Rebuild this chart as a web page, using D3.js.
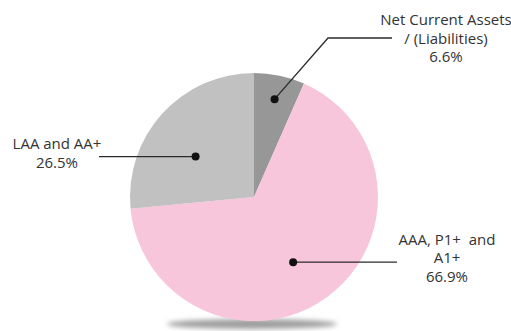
<!DOCTYPE html>
<html lang="en">
<head>
  <meta charset="UTF-8">
  <title>Portfolio pie</title>
  <style>
    body, html {
      margin: 0;
      padding: 0;
      background: #fff;
    }
    #svg {
      display: block;
    }
  </style>
</head>
<body>
  <svg id="svg" width="511" height="331"></svg>
  <script src="https://d3js.org/d3.v7.min.js"></script>
  <script>
    // Data
    const labels = [
      ['Net Current Assets', '/ (Liabilities)', '6.6%'],
      ['AAA, P1+  and', 'A1+', '66.9%'],
      ['LAA and AA+', '26.5%']
    ]
    const values = [6.6, 66.9, 26.5]
    const colors = ['#979797', '#f7c6da', '#c1c1c1']

    const width = 511
    const height = 331
    const cx = 254
    const cy = 197
    const radius = 124

    // where the dot sits inside each slice: fraction along slice, radius
    const dotPos = [
      { t: 0.5, r: 100 },
      { t: 0.52, r: 76 },
      { t: 0.42, r: 71 }
    ]
    // leader ends and text anchors
    const leaders = [
      { pts: [[328, 38], [392, 38]], tx: 446, ty: [25, 43.5, 62] },
      { pts: [[397, null]], tx: 447, ty: [244.5, 263, 281.5] },
      { pts: [[99, null]], tx: 57, ty: [148.5, 167.5] }
    ]

    const svg = d3.select('#svg')

    // Soft shadow under the pie
    const defs = svg.append('defs')
    defs.append('filter')
      .attr('id', 'blur')
      .attr('x', '-20%').attr('y', '-200%')
      .attr('width', '140%').attr('height', '500%')
      .append('feGaussianBlur')
      .attr('stdDeviation', 2.5)

    svg.append('ellipse')
      .attr('cx', 252)
      .attr('cy', 324)
      .attr('rx', 85)
      .attr('ry', 5)
      .attr('fill', '#9e9e9e')
      .attr('filter', 'url(#blur)')

    const pieGen = d3.pie().sort(null)
    const arcData = pieGen(values)

    const arcGen = d3.arc()
      .innerRadius(0)
      .outerRadius(radius)

    const pieGroup = svg.append('g')
      .attr('transform', `translate(${cx}, ${cy})`)

    pieGroup.selectAll('path')
      .data(arcData)
      .enter()
      .append('path')
      .attr('d', arcGen)
      .attr('fill', (d, i) => colors[i])

    // Dot positions
    const dots = arcData.map((d, i) => {
      const a = d.startAngle + (d.endAngle - d.startAngle) * dotPos[i].t
      return [cx + Math.sin(a) * dotPos[i].r, cy - Math.cos(a) * dotPos[i].r]
    })

    // Leader lines
    svg.append('g')
      .selectAll('path')
      .data(leaders)
      .enter()
      .append('path')
      .attr('d', (d, i) => {
        const p = [dots[i]].concat(d.pts.map(q => [q[0], q[1] == null ? dots[i][1] : q[1]]))
        return d3.line()(p)
      })
      .attr('fill', 'none')
      .attr('stroke', '#2a2a2a')
      .attr('stroke-width', 1.3)

    svg.append('g')
      .selectAll('circle')
      .data(dots)
      .enter()
      .append('circle')
      .attr('cx', d => d[0])
      .attr('cy', d => d[1])
      .attr('r', 4)
      .attr('fill', '#111')

    // Labels
    const textGroup = svg.append('g')
      .attr('font-family', 'Open Sans, sans-serif')
      .attr('font-size', 15)
      .attr('fill', '#333')
      .attr('text-anchor', 'middle')

    labels.forEach((lines, i) => {
      const t = textGroup.append('text')
      lines.forEach((s, j) => {
        t.append('tspan')
          .attr('x', leaders[i].tx)
          .attr('y', leaders[i].ty[j])
          .attr('xml:space', 'preserve')
          .style('white-space', 'pre')
          .text(s)
      })
    })
  </script>
</body>
</html>
